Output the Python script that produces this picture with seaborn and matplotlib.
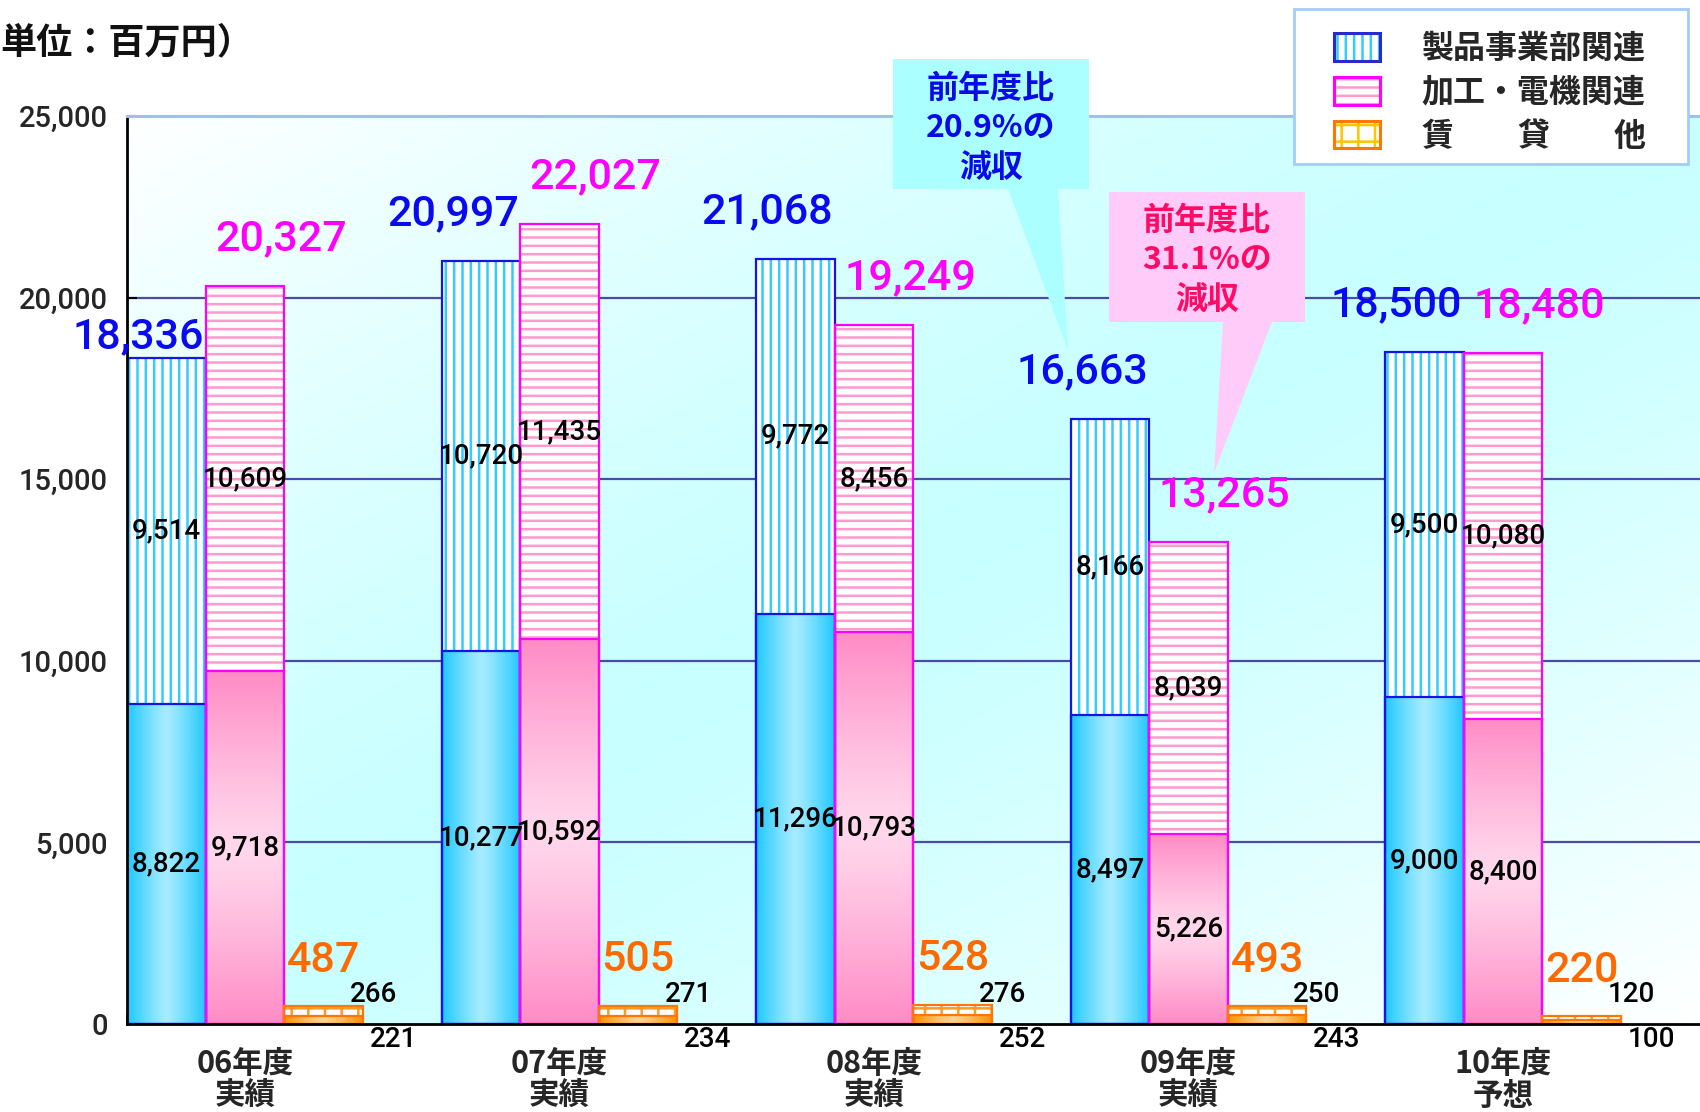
import numpy as np
import pandas as pd
import matplotlib
matplotlib.use("Agg")
import matplotlib.pyplot as plt
import seaborn as sns
from matplotlib.patches import Patch, Polygon, Rectangle
from matplotlib.ticker import StrMethodFormatter, FixedLocator
from matplotlib.colors import to_rgb

# ---- data -------------------------------------------------------------
years = ["06年度\n実績", "07年度\n実績", "08年度\n実績", "09年度\n実績", "10年度\n予想"]
series = ["製品事業部関連", "加工・電機関連", "賃　　貸　　他"]

seihin_lower = [8822, 10277, 11296, 8497, 9000]
seihin_upper = [9514, 10720, 9772, 8166, 9500]
kakou_lower = [9718, 10592, 10793, 5226, 8400]
kakou_upper = [10609, 11435, 8456, 8039, 10080]
chintai_lower = [221, 234, 252, 243, 100]
chintai_upper = [266, 271, 276, 250, 120]

y_ticks = [0, 5000, 10000, 15000, 20000, 25000]
unit_text = "単位：百万円）"
note_blue = "前年度比\n20.9%の\n減収"
note_pink = "前年度比\n31.1%の\n減収"

# ---- styles -----------------------------------------------------------
edge_cols = ["#1414E6", "#FF00FF", "#FF7700"]
hatch_cols = ["#33CCFF", "#FF9ACD", "#FF9A22"]
hatches = ["||", "--", "+"]
total_cols = ["#0A0AF0", "#FF00FF", "#FF6A00"]
NUM_FONT = ["Roboto", "Noto Sans CJK JP", "DejaVu Sans"]

sns.set_theme(style="white")
plt.rcParams["font.family"] = ["Noto Sans CJK JP", "DejaVu Sans"]
plt.rcParams["hatch.linewidth"] = 1.8

W, H = 1700, 1112
fig = plt.figure(figsize=(W / 100, H / 100), dpi=100)
ax = fig.add_axes([127 / W, 1 - 1024 / H, 1 - 127 / W, (1024 - 116) / H])

lowers = [seihin_lower, kakou_lower, chintai_lower]
uppers = [seihin_upper, kakou_upper, chintai_upper]
totals = [[a + b for a, b in zip(lo, up)] for lo, up in zip(lowers, uppers)]


def long_frame(values):
    return pd.DataFrame({
        "年度": [y for _ in series for y in years],
        "区分": [s for s in series for _ in years],
        "金額": [v for vals in values for v in vals],
    })


df_total = long_frame(totals)
df_lower = long_frame(lowers)
common = dict(x="年度", y="金額", hue="区分", order=years, hue_order=series,
              width=0.75, dodge=True, errorbar=None, legend=False, ax=ax)

# background: diagonal white -> cyan -> white
gx, gy = np.meshgrid(np.linspace(0, 1, 400), np.linspace(1, 0, 300))
t = np.clip(np.abs(gx - gy), 0, 1) ** 1.3
cyan, white = np.array(to_rgb("#C8FFFF")), np.array([1.0, 1.0, 1.0])
bg = cyan[None, None, :] * (1 - t[..., None]) + white[None, None, :] * t[..., None]
ax.imshow(bg, extent=[0, 1, 0, 1], transform=ax.transAxes, aspect="auto",
          zorder=0, interpolation="bilinear")

# full-height bars: white with hatching (upper segments show through)
sns.barplot(data=df_total, palette={s: "white" for s in series}, saturation=1, **common)
for k, cont in enumerate(ax.containers):
    for p in cont.patches:
        p.set_hatch(hatches[k])
        p.set_edgecolor(hatch_cols[k])
        p.set_linewidth(0)
        p.set_zorder(1)
n_top = len(ax.containers)

# lower segments with gradient fills
sns.barplot(data=df_lower, palette={s: "white" for s in series}, saturation=1, **common)


def refl(light, dark, n, power=1.2):
    s = np.linspace(0, 1, n)
    d = np.abs(s - 0.5) * 2
    d = d ** power
    l, dk = np.array(to_rgb(light)), np.array(to_rgb(dark))
    return l[None, :] * (1 - d[:, None]) + dk[None, :] * d[:, None]


grads = [
    refl("#A6ECFF", "#1FC8FF", 64)[None, :, :],          # horizontal
    refl("#FFD8EC", "#FF8CC6", 64)[:, None, :],          # vertical
    refl("#FFD490", "#FF9200", 64)[None, :, :],          # horizontal
]
for k, cont in enumerate(ax.containers[n_top:]):
    for p in cont.patches:
        x0, y0 = p.get_x(), p.get_y()
        x1, y1 = x0 + p.get_width(), y0 + p.get_height()
        ax.imshow(grads[k], extent=[x0, x1, y0, y1], aspect="auto",
                  zorder=1.5, interpolation="bilinear")
        p.set_facecolor("none")
        p.set_edgecolor(edge_cols[k])
        p.set_linewidth(1.6)
        p.set_zorder(2)

# outlines of the full bars
sns.barplot(data=df_total, palette=dict(zip(series, edge_cols)), fill=False,
            linewidth=1.6, **common)
for cont in ax.containers[2 * n_top:]:
    for p in cont.patches:
        p.set_zorder(2)

# ---- axes -------------------------------------------------------------
left = -0.375
ax.set_xlim(left, left + (W - 127) / 314.5)
ax.set_ylim(0, 25000)
ax.yaxis.set_major_locator(FixedLocator(y_ticks))
ax.yaxis.set_major_formatter(StrMethodFormatter("{x:,.0f}"))
ax.set_xlabel("")
ax.set_ylabel("")
ax.set_axisbelow(True)
ax.grid(False)
for yv in y_ticks[1:-1]:
    ax.axhline(yv, color="#4A4AA8", lw=1.6, zorder=0.5)
ax.spines["right"].set_visible(False)
ax.spines["top"].set_color("#9DC0F0")
ax.spines["top"].set_linewidth(2.2)
for side in ["left", "bottom"]:
    ax.spines[side].set_color("black")
    ax.spines[side].set_linewidth(2)
ax.tick_params(axis="y", direction="in", length=7, width=1.5, color="black",
               pad=14, left=True)
for lab in ax.get_yticklabels():
    lab.set_fontfamily(NUM_FONT)
    lab.set_fontweight("medium")
    lab.set_fontsize(21)
ax.tick_params(axis="x", length=0, pad=17)
for lab in ax.get_xticklabels():
    lab.set_fontsize(22)
    lab.set_fontweight("bold")
    lab.set_linespacing(1.0)
ax.xaxis.set_minor_locator(FixedLocator([i + left for i in range(len(years))]))
ax.tick_params(axis="x", which="minor", direction="in", length=7, width=1.8,
               color="black", bottom=True)

# ---- labels -----------------------------------------------------------
num_style = dict(fontfamily=NUM_FONT, fontweight="medium", ha="center", va="center")
bar_w = 0.25
for i in range(len(years)):
    for k in range(3):
        cx = i + (k - 1) * bar_w
        lo, up, tot = lowers[k][i], uppers[k][i], totals[k][i]
        if k < 2:
            ax.text(cx, lo / 2, f"{lo:,}", fontsize=20, color="black",
                    zorder=5, **num_style)
            ax.text(cx, lo + up / 2, f"{up:,}", fontsize=20, color="black",
                    zorder=5, **num_style)
            dx = -20 if k == 0 else 26
            dy = 15 if (i == 0 and k == 0) else 34
            ax.annotate(f"{tot:,}", xy=(cx, tot), xytext=(dx, dy),
                        textcoords="offset points", fontsize=31,
                        color=total_cols[k], zorder=6, **num_style)
        else:
            ax.annotate(f"{tot:,}", xy=(cx, tot), xytext=(0, 33),
                        textcoords="offset points", fontsize=31,
                        color=total_cols[k], zorder=6, **num_style)
            ax.annotate(f"{up:,}", xy=(cx, 0), xytext=(36, 21),
                        textcoords="offset points", fontsize=20,
                        color="black", zorder=6, **num_style)
            ax.annotate(f"{lo:,}", xy=(cx, 0), xytext=(50, -11),
                        textcoords="offset points", fontsize=20,
                        color="black", zorder=6, annotation_clip=False,
                        **num_style)

# ---- header, callouts, legend -------------------------------------------
def fpx(x, y):
    return (x / W, 1 - y / H)


fig.text(*fpx(0, 43), unit_text, ha="left", va="center", fontsize=26,
         fontweight="bold", color="#111111")

blue_shape = [fpx(893, 59), fpx(1089, 59), fpx(1089, 189), fpx(1058, 189),
              fpx(1068, 350), fpx(1008, 189), fpx(893, 189)]
pink_shape = [fpx(1109, 192), fpx(1305, 192), fpx(1305, 322), fpx(1272, 322),
              fpx(1214, 473), fpx(1223, 322), fpx(1109, 322)]
fig.add_artist(Polygon(blue_shape, closed=True, transform=fig.transFigure,
                       facecolor="#ABFFFF", edgecolor="none", zorder=3))
fig.add_artist(Polygon(pink_shape, closed=True, transform=fig.transFigure,
                       facecolor="#FFCCFA", edgecolor="none", zorder=3))
fig.text(*fpx(991, 129), note_blue, ha="center", va="center", fontsize=23,
         fontweight="bold", color="#0A0AE6", linespacing=1.32, zorder=4)
fig.text(*fpx(1207, 261), note_pink, ha="center", va="center", fontsize=23,
         fontweight="bold", color="#FF0A64", linespacing=1.32, zorder=4)

# legend box
x0, y0 = fpx(1294, 164)
x1, y1 = fpx(1688, 9)
fig.add_artist(Rectangle((x0, y0), x1 - x0, y1 - y0, transform=fig.transFigure,
                         facecolor="white", edgecolor="#A4CCFA", linewidth=2,
                         zorder=4))
handles = []
for k in range(3):
    handles.append((
        Patch(facecolor="white", edgecolor=hatch_cols[k] if k < 2 else "#FFC400",
              hatch=hatches[k], linewidth=0),
        Patch(facecolor="none", edgecolor=edge_cols[k] if k != 0 else "#2A2ACC",
              linewidth=2.2),
    ))
leg = fig.legend(handles, series, loc="upper left",
                 bbox_to_anchor=fpx(1334, 33), prop={"size": 23, "weight": "bold"},
                 frameon=False, borderpad=0, handlelength=1.45, handleheight=0.95,
                 handletextpad=1.3, labelspacing=0.37, borderaxespad=0)
leg.set_zorder(5)

fig.savefig("out.png", dpi=100, facecolor="white")
